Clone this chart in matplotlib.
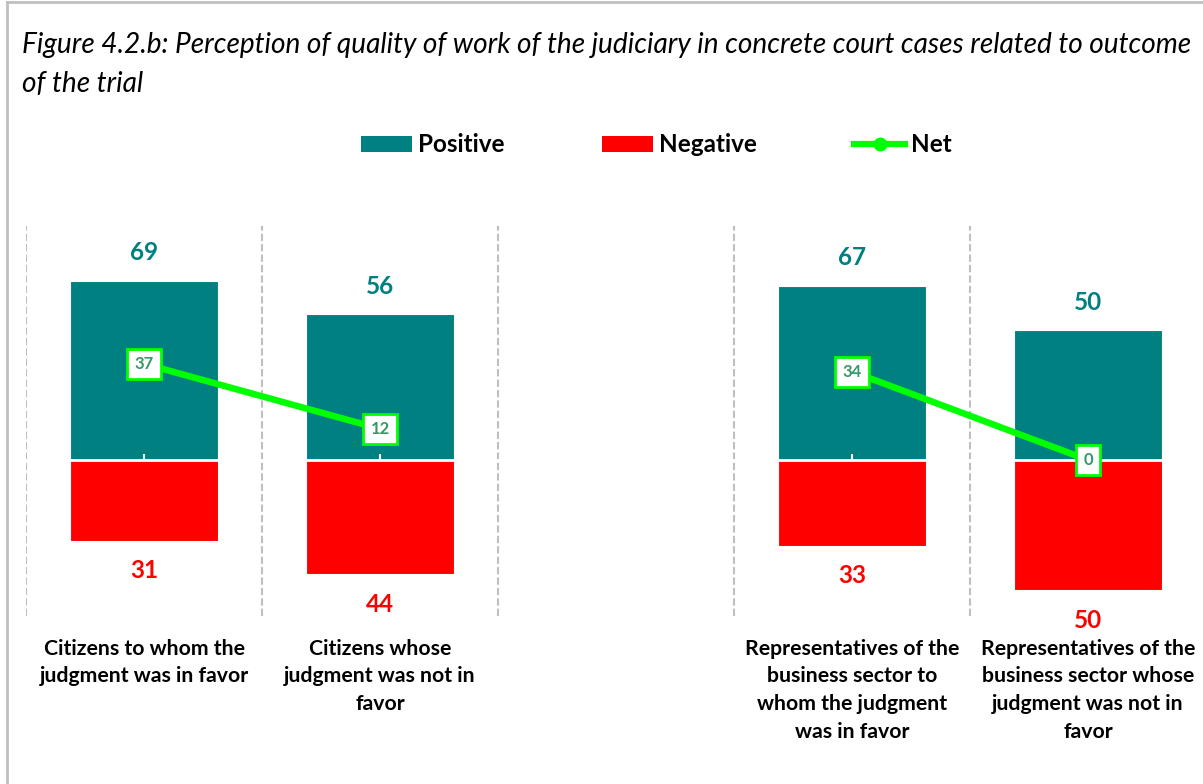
import matplotlib
matplotlib.use('Agg')
import matplotlib.pyplot as plt
import numpy as np
from matplotlib.patches import Patch
from matplotlib.lines import Line2D
from matplotlib.transforms import blended_transform_factory

# ---- data ----
categories = [
    "Citizens to whom the\njudgment was in favor",
    "Citizens whose\njudgment was not in\nfavor",
    "",
    "Representatives of the\nbusiness sector to\nwhom the judgment\nwas in favor",
    "Representatives of the\nbusiness sector whose\njudgment was not in\nfavor",
]
positive = [69, 56, np.nan, 67, 50]
negative = [31, 44, np.nan, 33, 50]
net = [37, 12, np.nan, 34, 0]
series_names = ["Positive", "Negative", "Net"]
title = ("Figure 4.2.b: Perception of quality of work of the judiciary in concrete court cases related to outcome\n"
         "of the trial")

TEAL = '#008080'
RED = '#FF0000'
GREEN = '#00FF00'
LBL_GREEN = '#339966'
GRAY = '#BFBFBF'
FONT = 'Lato'

W, H = 1203, 784
fig = plt.figure(figsize=(W / 100, H / 100), dpi=100)
plt.rcParams['font.family'] = [FONT, 'DejaVu Sans']

ax = fig.add_axes([26 / W, (H - 616) / H, (1206 - 26) / W, (616 - 226) / H])
x = np.arange(len(categories))
pos = np.array(positive, dtype=float)
neg = np.array(negative, dtype=float)
nt = np.array(net, dtype=float)
valid = ~np.isnan(pos)

bw = 0.623
ax.bar(x[valid], pos[valid], width=bw, color=TEAL, edgecolor='white', linewidth=0.8, zorder=1)
ax.bar(x[valid], -neg[valid], width=bw, color=RED, edgecolor='white', linewidth=0.8, zorder=1)

for xi, v in zip(x[valid], pos[valid]):
    ax.annotate(f'{int(v)}', (xi, v), xytext=(0, 28), textcoords='offset pixels',
                ha='center', va='center', fontsize=17.5, fontweight='bold', color=TEAL)
for xi, v in zip(x[valid], neg[valid]):
    ax.annotate(f'{int(v)}', (xi, -v), xytext=(0, -30), textcoords='offset pixels',
                ha='center', va='center', fontsize=17.5, fontweight='bold', color=RED)

# separators
for b in np.arange(-0.5, len(categories), 1.0):
    ax.axvline(b, color=GRAY, lw=1.5, ls=(0, (3.5, 1.5)), zorder=0.5)

# net line
ax.plot(x, nt, color=GREEN, lw=4.7, solid_capstyle='butt', zorder=3)
for xi, v in zip(x[valid], nt[valid]):
    ax.text(xi, v, f'{int(v)}', ha='center', va='center', fontsize=12, fontweight='bold',
            color=LBL_GREEN, zorder=4,
            bbox=dict(boxstyle='square,pad=0.42', fc='white', ec=GREEN, lw=2))

ax.set_xlim(-0.5, len(categories) - 0.5)
ax.set_ylim(-60, 90)
for s in ['top', 'left', 'right']:
    ax.spines[s].set_visible(False)
ax.spines['bottom'].set_position(('data', 0))
ax.spines['bottom'].set_color('white')
ax.spines['bottom'].set_linewidth(2)
ax.set_yticks([])
ax.set_xticks(x)
ax.set_xticklabels([])
ax.tick_params(axis='x', direction='in', length=4, width=1.5, color='white')
ax.patch.set_alpha(0)

tr = blended_transform_factory(ax.transData, ax.transAxes)
for xi, c in zip(x, categories):
    ax.text(xi, -0.058, c, transform=tr, ha='center', va='top', multialignment='center',
            fontsize=15.3, fontweight='bold', color='black', linespacing=1.48)

# legend
handles = [Patch(facecolor=TEAL), Patch(facecolor=RED),
           Line2D([0], [0], color=GREEN, lw=4.5, marker='o', ms=9)]
fig.legend(handles, series_names, loc='center', bbox_to_anchor=(656.5 / W, (H - 145) / H),
           ncol=3, frameon=False, prop={'family': FONT, 'weight': 'bold', 'size': 17.5},
           handlelength=2.12, handleheight=0.6, columnspacing=3.98, handletextpad=0.25)

# title
fig.text(22 / W, 1 - 32 / H, title, ha='left', va='top', style='italic', fontsize=20.2,
         linespacing=1.62, color='black')

# frame border
fig.add_artist(Line2D([6.5 / W, 6.5 / W], [0, 1 - 2 / H], color=GRAY, lw=2, transform=fig.transFigure))
fig.add_artist(Line2D([6.5 / W, 1], [1 - 2 / H, 1 - 2 / H], color=GRAY, lw=2, transform=fig.transFigure))

fig.savefig('out.png', dpi=100, facecolor='white')
